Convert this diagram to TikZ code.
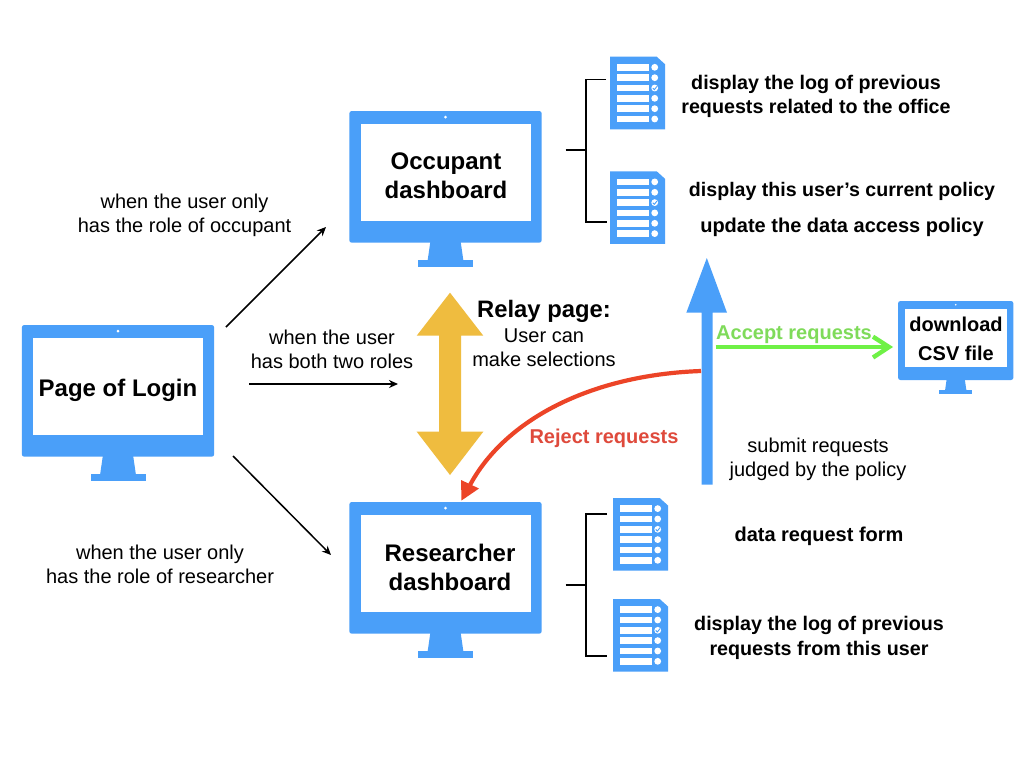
\documentclass[tikz,border=0pt]{standalone}
\usepackage{fontspec}
\setmainfont{Liberation Sans}
\usetikzlibrary{arrows.meta}
\definecolor{uiblue}{HTML}{4A9FF9}
\definecolor{uiyellow}{HTML}{EFBC3F}
\definecolor{uired}{HTML}{EC4427}
\definecolor{redtext}{HTML}{DF4A3C}
\definecolor{uigreen}{HTML}{6FF146}
\definecolor{greentext}{HTML}{7FDB5A}
\tikzset{
  x=1pt,y=-1pt,
  plain/.style={font=\fontsize{20}{24}\selectfont,align=center,inner sep=0pt},
  boldlab/.style={font=\fontsize{20}{24}\selectfont\bfseries,align=center,inner sep=0pt},
  logolab/.style={font=\fontsize{19.7}{24.5}\selectfont\bfseries,align=center,inner sep=0pt},
  policylab/.style={font=\fontsize{19.6}{24}\selectfont\bfseries,align=center,inner sep=0pt},
  screenlab/.style={font=\fontsize{24}{29}\selectfont\bfseries,align=center,inner sep=0pt},
  smallscreenlab/.style={font=\fontsize{20}{29}\selectfont\bfseries,align=center,inner sep=0pt},
  relaylab/.style={font=\fontsize{23.8}{26}\selectfont\bfseries,align=center,inner sep=0pt},
  thinarrow/.style={draw=black,line width=1.5pt,-{Stealth[length=9pt,width=8pt]}},
  bracket/.style={draw=black,line width=1.6pt},
}
\newcommand{\monitor}[4]{%
  \begin{scope}[shift={(#2,#3)},scale=#4]
    \fill[uiblue,rounded corners=2.5pt] (0,0) rectangle (192.4,131.7);
    \fill[uiblue] (81,131) -- (111.4,131) -- (114,149) -- (78.4,149) -- cycle;
    \fill[uiblue] (68.7,149) rectangle (123.7,155.7);
    \fill[white] (11.4,12.7) rectangle (181.4,109.7);
    \fill[white] (96.2,6.2) circle (1.5);
    \coordinate (#1) at (96.2,61.2);
  \end{scope}}
\newcommand{\docicon}[3]{%
  \begin{scope}[shift={(#2,#3)}]
    \fill[uiblue] (0,0) -- (46.7,0) -- (55,7.5) -- (55,72.6) -- (0,72.6) -- cycle;
    \foreach \yy/\ii in {10.6/1,21/2,31.3/3,41.6/4,52/5,62.3/6}{
      \fill[white] (7,\yy-3.4) rectangle (39.3,\yy+3.4);
      \fill[white] (44.7,\yy) circle (3.4);
    }
    \draw[uiblue,line width=0.9pt] (42.8,31.4) -- (44.3,33) -- (47,29.7);
    \coordinate (#1) at (27.5,36.3);
  \end{scope}}
\begin{document}
\begin{tikzpicture}
\useasboundingbox (0,0) rectangle (1024,768);
\fill[white] (0,0) rectangle (1024,768);

% monitors
\monitor{loginm}{21.8}{325}{1}
\monitor{occm}{349.3}{111}{1}
\monitor{resm}{349.3}{502}{1}
\monitor{csvm}{898}{301}{0.6}

% monitor labels
\node[screenlab] (login) at (118,390) {Page of Login};
\node[screenlab] (occ) at (446,175.5) {Occupant\\dashboard};
\node[screenlab] (res) at (450,567.5) {Researcher\\dashboard};
\node[smallscreenlab] (csv) at (956,338.5) {download\\CSV file};

% document icons
\docicon{d1}{610}{56.7}
\docicon{d2}{610}{171.3}
\docicon{d3}{613}{498}
\docicon{d4}{613}{599}

% brackets
\coordinate (b1s) at (565.7,150);
\coordinate (b1m) at (586,150);
\coordinate (b1t) at (586,79.5);
\coordinate (b1b) at (586,221.7);
\coordinate (b1te) at (606,79.5);
\coordinate (b1be) at (607,221.7);
\draw[bracket] (b1s) -- (b1m);
\draw[bracket] (b1te) -- (b1t) -- (b1b) -- (b1be);
\coordinate (b2s) at (565.7,585);
\coordinate (b2m) at (586,585);
\coordinate (b2t) at (586,514);
\coordinate (b2b) at (586,656);
\coordinate (b2te) at (607,514);
\coordinate (b2be) at (607,656);
\draw[bracket] (b2s) -- (b2m);
\draw[bracket] (b2te) -- (b2t) -- (b2b) -- (b2be);

% thin arrows
\coordinate (a1s) at (226,327);
\coordinate (a1e) at (326,227);
\coordinate (a2s) at (249,384);
\coordinate (a2e) at (398,384);
\coordinate (a3s) at (233,456);
\coordinate (a3e) at (331,555);
\draw[thinarrow] (a1s) -- (a1e);
\draw[thinarrow] (a2s) -- (a2e);
\draw[thinarrow] (a3s) -- (a3e);

% yellow double arrow
\fill[uiyellow] (450,292.7) -- (483.3,335.7) -- (461,335.7) -- (461,431.7) -- (483.3,431.7)
  -- (450,475) -- (416.7,431.7) -- (439,431.7) -- (439,335.7) -- (416.7,335.7) -- cycle;

% blue arrow
\fill[uiblue] (706.8,258) -- (727,312.7) -- (712.7,312.7) -- (712.7,484.5) -- (701.7,484.5)
  -- (701.7,312.7) -- (686.3,312.7) -- cycle;

% green arrow
\coordinate (gs) at (715.7,347);
\coordinate (ge) at (889,347);
\coordinate (gu) at (873,336.7);
\coordinate (gd) at (873,357.5);
\draw[uigreen,line width=4.4pt] (gs) -- (ge);
\draw[uigreen,line width=4.4pt,miter limit=10] (gu) -- (ge) -- (gd);

% red arrow
\coordinate (rs) at (701,371);
\coordinate (re) at (470,485);
\coordinate (rt) at (461.5,500.5);
\draw[uired,line width=4.2pt] (rs) .. controls (590,375) and (505,420) .. (re);
\fill[uired] (rt) -- (461,480) -- (479,488.5) -- cycle;

% labels
\node[logolab] (t1) at (816,96.5) {display the log of previous\\requests related to the office};
\node[policylab] (t2) at (842,191.5) {display this user’s current policy};
\node[boldlab] (t3) at (842,227.5) {update the data access policy};
\node[plain] (t4) at (184.5,215) {when the user only\\has the role of occupant};
\node[plain] (t5) at (332,349.5) {when the user\\has both two roles};
\node[plain] (t6) at (160,564.5) {when the user only\\has the role of researcher};
\node[relaylab] (t7) at (544,311) {Relay page:};
\node[plain] (t8) at (544,347.5) {User can\\make selections};
\node[plain] (t9) at (818,459) {submit requests\\judged by the policy};
\node[boldlab] (t10) at (819,536.5) {data request form};
\node[logolab] (t11) at (819,638) {display the log of previous\\requests from this user};
\node[boldlab,text=greentext] (t12) at (794,335) {Accept requests};
\node[boldlab,text=redtext] (t13) at (604,438) {Reject requests};
\end{tikzpicture}
\end{document}
